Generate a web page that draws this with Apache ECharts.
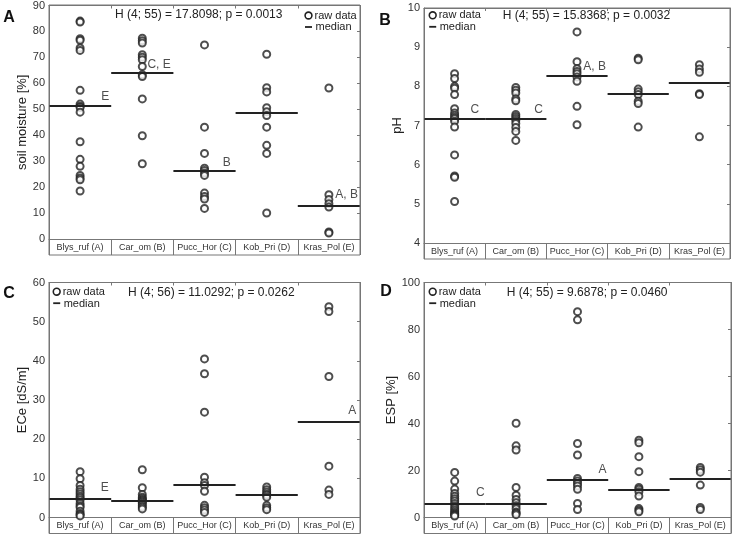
<!DOCTYPE html>
<html><head><meta charset="utf-8">
<script src="https://cdn.jsdelivr.net/npm/echarts@6/dist/echarts.min.js"></script>
<style>html,body{margin:0;padding:0;background:#fff}#c{width:733px;height:534px}</style>
</head><body><div id="c"></div>
<script>
const categories = ['Blys_ruf (A)', 'Car_om (B)', 'Pucc_Hor (C)', 'Kob_Pri (D)', 'Kras_Pol (E)'];

// Panel A: soil moisture [%]
const moistureBlys = [84.0, 83.6, 77.2, 76.6, 73.6, 72.7, 57.3, 52.0, 51.2, 50.7, 48.9, 37.5, 30.7, 28.0, 24.5, 23.5, 22.8, 18.5];
const moistureCar = [77.4, 76.4, 75.5, 71.0, 70.1, 69.1, 66.5, 63.3, 62.6, 54.0, 39.8, 29.0];
const moisturePucc = [74.8, 43.1, 33.0, 27.3, 26.4, 25.4, 24.5, 17.7, 16.4, 15.4, 11.8];
const moistureKob = [71.2, 58.3, 56.7, 50.6, 49.0, 47.6, 43.1, 36.1, 33.0, 10.0];
const moistureKras = [58.2, 17.1, 15.2, 13.6, 12.3, 2.7, 2.3];
const moistureMedians = [51.2, 63.9, 26.3, 48.8, 13.0];
const moistureLetters = ['E', 'C, E', 'B', '', 'A, B'];
const moistureLetterValues = [54.6, 67.1, 29.3, null, 16.7];

// Panel B: pH
const phBlys = [8.32, 8.20, 8.00, 7.95, 7.79, 7.43, 7.32, 7.26, 7.21, 7.17, 7.11, 6.96, 6.25, 5.71, 5.68, 5.06];
const phCar = [7.97, 7.90, 7.83, 7.68, 7.63, 7.28, 7.23, 7.18, 7.13, 7.05, 6.95, 6.85, 6.62];
const phPucc = [9.39, 8.63, 8.45, 8.38, 8.32, 8.24, 8.13, 7.49, 7.02];
const phKob = [8.72, 8.68, 7.93, 7.86, 7.79, 7.62, 7.56, 6.96];
const phKras = [8.55, 8.44, 8.36, 7.81, 7.79, 6.71];
const phMedians = [7.18, 7.18, 8.27, 7.80, 8.09];
const phLetters = ['C', 'C', 'A, B', '', ''];
const phLetterValues = [7.40, 7.40, 8.49, null, null];

// Panel C: ECe [dS/m]
const eceBlys = [11.7, 9.9, 8.2, 7.2, 6.6, 6.0, 5.4, 5.0, 4.5, 3.6, 3.0, 2.6, 1.6, 1.0, 0.7, 0.4];
const eceCar = [12.2, 7.6, 5.9, 5.2, 4.8, 4.5, 4.2, 3.9, 3.5, 3.0, 2.6, 2.2];
const ecePucc = [40.5, 36.7, 26.9, 10.3, 8.9, 8.2, 6.7, 3.1, 2.5, 1.9, 1.3];
const eceKob = [7.8, 7.1, 6.5, 6.0, 5.7, 5.2, 3.1, 2.5, 2.0];
const eceKras = [53.8, 52.6, 36.0, 13.1, 7.0, 5.9];
const eceMedians = [4.8, 4.3, 8.4, 5.7, 24.5];
const eceLetters = ['E', '', '', '', 'A'];
const eceLetterValues = [7.4, null, null, null, 27.2];

// Panel D: ESP [%]
const espBlys = [19.2, 15.5, 12.1, 10.2, 9.0, 8.0, 7.0, 6.0, 5.0, 4.0, 3.2, 2.5, 1.8, 1.4, 1.0, 0.6];
const espCar = [40.1, 30.5, 28.7, 12.8, 9.5, 7.7, 6.3, 5.0, 3.7, 2.3, 1.8, 1.2];
const espPucc = [87.6, 84.1, 31.5, 26.6, 16.6, 15.5, 14.5, 13.4, 12.0, 6.0, 3.4];
const espKob = [32.9, 31.8, 25.9, 19.5, 12.8, 12.0, 11.0, 9.1, 3.8, 3.1, 2.4];
const espKras = [21.3, 20.3, 19.3, 13.8, 4.3, 3.4];
const espMedians = [5.8, 6.0, 16.2, 11.6, 16.3];
const espLetters = ['C', '', 'A', '', ''];
const espLetterValues = [10.2, null, 20.2, null, null];

const statTexts = [
  'H (4; 55) = 17.8098; p = 0.0013',
  'H (4; 55) = 15.8368; p = 0.0032',
  'H (4; 56) = 11.0292; p = 0.0262',
  'H (4; 55) = 9.6878; p = 0.0460'
];
const panelTags = ['A', 'B', 'C', 'D'];
const yNames = ['soil moisture [%]', 'pH', 'ECe [dS/m]', 'ESP [%]'];

const FONT = '"Liberation Sans", Arial, Helvetica, sans-serif';
const INK = '#222';
const FRAME = '#777';
const STRIP = 16;

const panels = [
  { left: 49, top: 5, width: 311, height: 234, min: 0, max: 90, interval: 10, nameGap: 16,
    groups: [moistureBlys, moistureCar, moisturePucc, moistureKob, moistureKras],
    medians: moistureMedians, letters: moistureLetters, letterValues: moistureLetterValues,
    letterOffsets: [0.85, 0.59, 0.8, 0, 0.61],
    stat: [115, 15], tag: [9, 17.5], legend: [308.5, 15.5] },
  { left: 424, top: 8, width: 306, height: 235, min: 4, max: 10, interval: 1, nameGap: 19,
    groups: [phBlys, phCar, phPucc, phKob, phKras],
    medians: phMedians, letters: phLetters, letterValues: phLetterValues,
    letterOffsets: [0.77, 0.81, 0.61, 0, 0],
    stat: [502.7, 16], tag: [385, 20.3], legend: [432.7, 15.3] },
  { left: 49, top: 282.5, width: 311, height: 235, min: 0, max: 60, interval: 10, nameGap: 17,
    groups: [eceBlys, eceCar, ecePucc, eceKob, eceKras],
    medians: eceMedians, letters: eceLetters, letterValues: eceLetterValues,
    letterOffsets: [0.84, 0, 0, 0, 0.82],
    stat: [128, 292.7], tag: [9, 293.8], legend: [56.7, 291.7] },
  { left: 424, top: 282.5, width: 307, height: 235, min: 0, max: 100, interval: 20, nameGap: 23,
    groups: [espBlys, espCar, espPucc, espKob, espKras],
    medians: espMedians, letters: espLetters, letterValues: espLetterValues,
    letterOffsets: [0.855, 0, 0.85, 0, 0],
    stat: [506.7, 292.7], tag: [386, 291.5], legend: [432.7, 291.7] }
];

const grid = [], xAxis = [], yAxis = [], series = [], graphic = [];

panels.forEach((p, k) => {
  grid.push({ left: p.left, top: p.top, width: p.width, height: p.height, containLabel: false });
  xAxis.push({ gridIndex: k, type: 'category', data: categories, position: 'bottom', boundaryGap: true,
    axisLine: { show: true, onZero: false, lineStyle: { color: FRAME, width: 1 } },
    axisTick: { show: true, interval: 0, length: STRIP, lineStyle: { color: FRAME, width: 1 } },
    axisLabel: { interval: 0, fontSize: 9, fontFamily: FONT, color: '#333', margin: 4 },
    splitLine: { show: false } });
  xAxis.push({ gridIndex: k, type: 'value', min: 0, max: 5, show: false });
  xAxis.push({ gridIndex: k, type: 'category', data: categories, position: 'top', boundaryGap: true,
    axisLine: { show: true, onZero: false, lineStyle: { color: FRAME, width: 1 } },
    axisTick: { show: true, inside: true, interval: 0, length: 3, lineStyle: { color: FRAME } },
    axisLabel: { show: false }, splitLine: { show: false } });
  yAxis.push({ gridIndex: k, type: 'value', min: p.min, max: p.max, interval: p.interval, position: 'left',
    name: yNames[k], nameLocation: 'middle', nameGap: p.nameGap,
    nameTextStyle: { fontSize: 13, fontFamily: FONT, color: INK },
    axisLine: { show: true, onZero: false, lineStyle: { color: FRAME } },
    axisTick: { show: false },
    axisLabel: { fontSize: 11, fontFamily: FONT, color: '#333', margin: 4 },
    splitLine: { show: false } });
  yAxis.push({ gridIndex: k, type: 'value', min: p.min, max: p.max, interval: p.interval, position: 'right',
    axisLine: { show: true, onZero: false, lineStyle: { color: FRAME } },
    axisTick: { show: true, inside: true, length: 3, lineStyle: { color: FRAME } },
    axisLabel: { show: false }, splitLine: { show: false } });

  const pts = [];
  p.groups.forEach((arr, i) => arr.forEach(v => pts.push([i + 0.5, v])));
  series.push({
    name: 'raw data', type: 'scatter', xAxisIndex: 3 * k + 1, yAxisIndex: 2 * k,
    data: pts, symbol: 'emptyCircle', symbolSize: 7,
    itemStyle: { color: INK, borderColor: INK, borderWidth: 1.3 },
    animation: false, silent: true,
    markLine: { silent: true, symbol: ['none', 'none'], animation: false,
      label: { show: false },
      lineStyle: { color: INK, width: 2, type: 'solid' },
      data: p.medians.map((m, i) => [{ coord: [i, m] }, { coord: [i + 1, m] }]) }
  });
  const lt = [];
  p.letters.forEach((t, i) => { if (t) lt.push([i + p.letterOffsets[i], p.letterValues[i], t]); });
  series.push({
    name: 'letters', type: 'scatter', xAxisIndex: 3 * k + 1, yAxisIndex: 2 * k,
    data: lt, symbol: 'circle', symbolSize: 1, itemStyle: { color: 'rgba(0,0,0,0)' },
    animation: false, silent: true,
    label: { show: true, position: [0, 0], align: 'left', verticalAlign: 'middle',
      fontSize: 12, fontFamily: FONT, color: INK, formatter: q => q.value[2] }
  });

  graphic.push({ type: 'rect', silent: true, z: 10,
    shape: { x: p.left, y: p.top, width: p.width, height: p.height + STRIP },
    style: { fill: 'none', stroke: FRAME, lineWidth: 1 } });
  graphic.push({ type: 'text', silent: true, x: p.tag[0], y: p.tag[1],
    style: { text: panelTags[k], fontSize: 16, fontWeight: 'bold', fontFamily: FONT, fill: '#111', align: 'center', verticalAlign: 'middle' } });
  graphic.push({ type: 'text', silent: true, x: p.stat[0], y: p.stat[1],
    style: { text: statTexts[k], fontSize: 12, fontFamily: FONT, fill: INK, align: 'left', verticalAlign: 'middle' } });
  const [lx, ly] = p.legend;
  graphic.push({ type: 'circle', silent: true, shape: { cx: lx, cy: ly, r: 3.4 },
    style: { fill: 'none', stroke: INK, lineWidth: 1.6 } });
  graphic.push({ type: 'text', silent: true, x: lx + 6, y: ly,
    style: { text: 'raw data', fontSize: 11, fontFamily: FONT, fill: INK, align: 'left', verticalAlign: 'middle' } });
  graphic.push({ type: 'line', silent: true, shape: { x1: lx - 3.5, y1: ly + 11.5, x2: lx + 3.5, y2: ly + 11.5 },
    style: { stroke: INK, lineWidth: 1.8 } });
  graphic.push({ type: 'text', silent: true, x: lx + 7, y: ly + 11.8,
    style: { text: 'median', fontSize: 11, fontFamily: FONT, fill: INK, align: 'left', verticalAlign: 'middle' } });
});

const chart = echarts.init(document.getElementById('c'), null, { renderer: 'canvas' });
chart.setOption({ backgroundColor: '#fff', animation: false, grid, xAxis, yAxis, series, graphic });
</script></body></html>
